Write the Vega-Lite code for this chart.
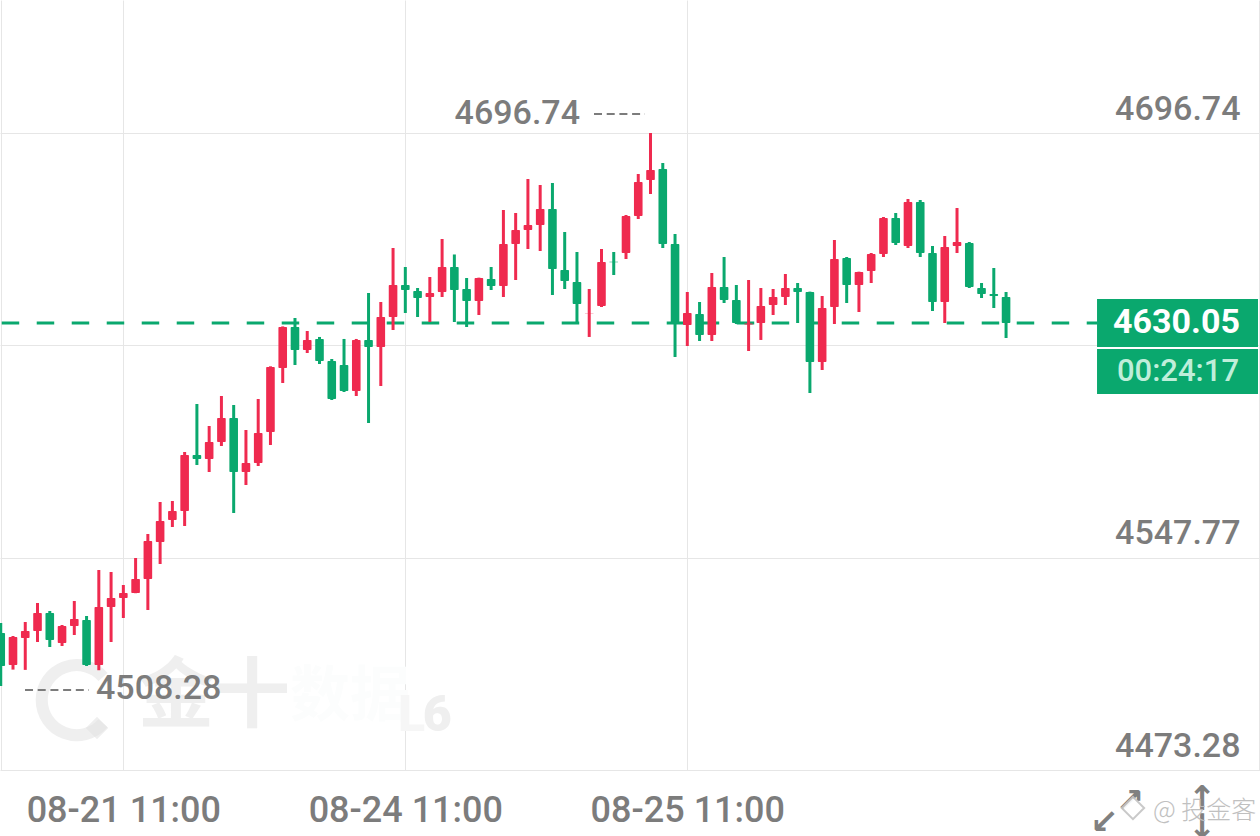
{"$schema":"https://vega.github.io/schema/vega-lite/v6.json","autosize":{"type":"none"},"width":1260,"height":770,"padding":{"left":0,"top":0,"right":0,"bottom":66},"background":"#ffffff","config":{"view":{"stroke":null},"font":"Roboto"},
"datasets":{"candles":[
{"n":0,"open":4521.34,"close":4509.77,"high":4524.85,"low":4502.75,"dir":"down"},
{"n":1,"open":4510.12,"close":4519.94,"high":4520.29,"low":4508.5,"dir":"up"},
{"n":2,"open":4519.59,"close":4522.04,"high":4525.2,"low":4508.4,"dir":"up"},
{"n":3,"open":4522.04,"close":4528.36,"high":4531.87,"low":4518.19,"dir":"up"},
{"n":4,"open":4528.36,"close":4518.89,"high":4529.06,"low":4516.43,"dir":"down"},
{"n":5,"open":4517.84,"close":4523.8,"high":4524.15,"low":4516.78,"dir":"up"},
{"n":6,"open":4523.8,"close":4526.26,"high":4532.57,"low":4520.64,"dir":"up"},
{"n":7,"open":4525.91,"close":4510.12,"high":4527.31,"low":4509.77,"dir":"down"},
{"n":8,"open":4510.12,"close":4530.46,"high":4543.44,"low":4508.28,"dir":"up"},
{"n":9,"open":4530.46,"close":4533.62,"high":4542.74,"low":4518.19,"dir":"up"},
{"n":10,"open":4533.62,"close":4535.38,"high":4538.18,"low":4526.61,"dir":"up"},
{"n":11,"open":4535.38,"close":4540.29,"high":4547.65,"low":4535.3,"dir":"up"},
{"n":12,"open":4540.29,"close":4553.62,"high":4556.07,"low":4529.41,"dir":"up"},
{"n":13,"open":4553.27,"close":4560.63,"high":4567.3,"low":4545.55,"dir":"up"},
{"n":14,"open":4560.98,"close":4564.14,"high":4567.65,"low":4558.53,"dir":"up"},
{"n":15,"open":4564.14,"close":4583.79,"high":4584.84,"low":4558.88,"dir":"up"},
{"n":16,"open":4583.79,"close":4582.38,"high":4601.68,"low":4580.28,"dir":"down"},
{"n":17,"open":4582.38,"close":4588.35,"high":4593.96,"low":4577.82,"dir":"up"},
{"n":18,"open":4588.35,"close":4596.77,"high":4604.48,"low":4586.95,"dir":"up"},
{"n":19,"open":4596.77,"close":4577.82,"high":4601.32,"low":4563.44,"dir":"down"},
{"n":20,"open":4577.82,"close":4580.98,"high":4592.56,"low":4573.26,"dir":"up"},
{"n":21,"open":4580.98,"close":4591.5,"high":4603.43,"low":4579.93,"dir":"up"},
{"n":22,"open":4591.85,"close":4614.66,"high":4614.9,"low":4587.3,"dir":"up"},
{"n":23,"open":4614.31,"close":4628.69,"high":4628.9,"low":4609.05,"dir":"up"},
{"n":24,"open":4628.69,"close":4620.62,"high":4631.85,"low":4615.36,"dir":"down"},
{"n":25,"open":4620.62,"close":4624.14,"high":4627.29,"low":4619.57,"dir":"up"},
{"n":26,"open":4624.49,"close":4616.76,"high":4625.19,"low":4615.71,"dir":"down"},
{"n":27,"open":4616.76,"close":4603.43,"high":4617.46,"low":4603.08,"dir":"down"},
{"n":28,"open":4615.36,"close":4606.24,"high":4624.49,"low":4605.89,"dir":"down"},
{"n":29,"open":4606.24,"close":4624.14,"high":4624.49,"low":4604.48,"dir":"up"},
{"n":30,"open":4624.14,"close":4621.68,"high":4640.62,"low":4595.01,"dir":"down"},
{"n":31,"open":4621.68,"close":4632.2,"high":4637.46,"low":4607.99,"dir":"up"},
{"n":32,"open":4632.2,"close":4643.42,"high":4656.4,"low":4627.64,"dir":"up"},
{"n":33,"open":4643.42,"close":4641.67,"high":4649.74,"low":4633.6,"dir":"down"},
{"n":34,"open":4641.32,"close":4638.86,"high":4642.37,"low":4632.2,"dir":"down"},
{"n":35,"open":4639.21,"close":4640.62,"high":4646.23,"low":4630.44,"dir":"up"},
{"n":36,"open":4640.97,"close":4649.74,"high":4659.56,"low":4639.21,"dir":"up"},
{"n":37,"open":4649.74,"close":4641.67,"high":4654.13,"low":4630.44,"dir":"down"},
{"n":38,"open":4642.02,"close":4637.81,"high":4645.88,"low":4628.69,"dir":"down"},
{"n":39,"open":4637.81,"close":4645.88,"high":4646,"low":4632.9,"dir":"up"},
{"n":40,"open":4645.53,"close":4643.07,"high":4649.74,"low":4641.67,"dir":"down"},
{"n":41,"open":4643.07,"close":4657.8,"high":4669.73,"low":4639.21,"dir":"up"},
{"n":42,"open":4657.8,"close":4662.72,"high":4668.68,"low":4645.18,"dir":"up"},
{"n":43,"open":4662.72,"close":4664.47,"high":4680.61,"low":4656.05,"dir":"up"},
{"n":44,"open":4664.47,"close":4670.08,"high":4678.5,"low":4655.35,"dir":"up"},
{"n":45,"open":4670.08,"close":4649.03,"high":4679.2,"low":4639.91,"dir":"down"},
{"n":46,"open":4648.68,"close":4644.82,"high":4662.01,"low":4642.02,"dir":"down"},
{"n":47,"open":4644.47,"close":4636.76,"high":4655,"low":4630.09,"dir":"down"},
{"n":48,"open":4633.55,"close":4633.6,"high":4642.02,"low":4625.19,"dir":"up"},
{"n":49,"open":4636.05,"close":4651.49,"high":4656.05,"low":4635.7,"dir":"up"},
{"n":50,"open":4651.6,"close":4651.4,"high":4655,"low":4646.93,"dir":"down"},
{"n":51,"open":4654.65,"close":4667.63,"high":4667.98,"low":4652.54,"dir":"up"},
{"n":52,"open":4667.63,"close":4679.55,"high":4682.36,"low":4666.57,"dir":"up"},
{"n":53,"open":4680.26,"close":4683.76,"high":4696.74,"low":4675.34,"dir":"up"},
{"n":54,"open":4684.11,"close":4657.8,"high":4686.22,"low":4656.4,"dir":"down"},
{"n":55,"open":4657.8,"close":4630.09,"high":4661.31,"low":4618.17,"dir":"down"},
{"n":56,"open":4629.39,"close":4633.6,"high":4640.97,"low":4622.02,"dir":"up"},
{"n":57,"open":4633.25,"close":4625.88,"high":4637.46,"low":4623.78,"dir":"down"},
{"n":58,"open":4625.88,"close":4642.72,"high":4647.63,"low":4623.78,"dir":"up"},
{"n":59,"open":4642.72,"close":4638.16,"high":4653.24,"low":4637.11,"dir":"down"},
{"n":60,"open":4638.16,"close":4630.09,"high":4643.42,"low":4629.74,"dir":"down"},
{"n":61,"open":4629.6,"close":4629.9,"high":4645.18,"low":4620.27,"dir":"up"},
{"n":62,"open":4630.09,"close":4636.05,"high":4642.37,"low":4624.14,"dir":"up"},
{"n":63,"open":4636.41,"close":4639.21,"high":4642.02,"low":4632.9,"dir":"up"},
{"n":64,"open":4639.21,"close":4642.37,"high":4647.28,"low":4636.41,"dir":"up"},
{"n":65,"open":4642.37,"close":4640.97,"high":4644.12,"low":4630.09,"dir":"down"},
{"n":66,"open":4640.97,"close":4616.41,"high":4641.1,"low":4605.54,"dir":"down"},
{"n":67,"open":4616.41,"close":4635.35,"high":4639.56,"low":4613.6,"dir":"up"},
{"n":68,"open":4635.7,"close":4652.54,"high":4659.21,"low":4629.74,"dir":"up"},
{"n":69,"open":4652.89,"close":4643.42,"high":4653.24,"low":4637.11,"dir":"down"},
{"n":70,"open":4643.42,"close":4647.98,"high":4648.1,"low":4633.95,"dir":"up"},
{"n":71,"open":4648.33,"close":4654.3,"high":4654.65,"low":4644.12,"dir":"up"},
{"n":72,"open":4654.3,"close":4666.93,"high":4667.28,"low":4653.24,"dir":"up"},
{"n":73,"open":4666.93,"close":4658.16,"high":4668.68,"low":4657.45,"dir":"down"},
{"n":74,"open":4657.1,"close":4672.54,"high":4673.59,"low":4656.4,"dir":"up"},
{"n":75,"open":4672.54,"close":4654.65,"high":4673.24,"low":4653.24,"dir":"down"},
{"n":76,"open":4654.65,"close":4637.46,"high":4657.1,"low":4634.3,"dir":"down"},
{"n":77,"open":4637.46,"close":4656.75,"high":4660.61,"low":4630.09,"dir":"up"},
{"n":78,"open":4657.1,"close":4658.51,"high":4670.43,"low":4654.65,"dir":"up"},
{"n":79,"open":4658.16,"close":4642.72,"high":4658.51,"low":4642.37,"dir":"down"},
{"n":80,"open":4642.37,"close":4640.27,"high":4644.12,"low":4638.86,"dir":"down"},
{"n":81,"open":4640.27,"close":4639.56,"high":4649.38,"low":4635.35,"dir":"down"},
{"n":82,"open":4639.21,"close":4630.09,"high":4640.97,"low":4624.82,"dir":"down"}
]},
"encoding":{
"x":{"field":"n","type":"quantitative","title":null,"scale":{"domain":[-0.0604,102.713],"nice":false,"zero":false,"padding":0},"axis":{"values":[0.02,10,33,56,102.6],"grid":true,"gridColor":"#e6e6e6","gridWidth":1,"domain":false,"ticks":false,"tickSize":0,"labelExpr":"datum.value==10?'08-21 11:00':datum.value==33?'08-24 11:00':datum.value==56?'08-25 11:00':''","labelFont":"Roboto","labelFontWeight":500,"labelFontSize":36,"labelColor":"#7c7c7c","labelBaseline":"middle","labelAlign":"center","labelPadding":40,"labelFlush":false,"labelOverlap":false,"labelBound":false,"labelLimit":400}},
"y":{"field":"price","type":"quantitative","title":null,"scale":{"domain":[4473.28,4743.4],"nice":false,"zero":false},"axis":{"values":[4696.74,4622.26,4547.77,4473.28],"format":".2f","grid":true,"gridColor":"#e6e6e6","gridWidth":1,"domain":false,"ticks":false,"tickSize":0,"labelFont":"Roboto","labelFontWeight":500,"labelFontSize":34,"labelColor":"#7c7c7c","labelAlign":"right","labelBaseline":"alphabetic","labelPadding":-1240,"labelOffset":-14,"labelOverlap":false,"labelBound":false,"labelFlush":false,"labelLimit":400}}
},
"layer":[
{"data":{"values":[{"n":6.2,"price":4497.8}]},"mark":{"type":"point","shape":"M 0.75 -0.66 A 1 1 0 1 0 0.75 0.66","filled":false,"size":4900,"strokeWidth":12,"stroke":"#e2e2e2","opacity":0.55}},
{"data":{"values":[{"n":7.85,"price":4488.02}]},"mark":{"type":"point","shape":"diamond","filled":true,"size":500,"fill":"#e2e2e2","opacity":0.55}},
{"data":{"values":[{"n":17.39,"price":4498.54,"label":"金十"}]},"mark":{"type":"text","font":"Noto Sans CJK SC","fontWeight":700,"fontSize":76,"fill":"#e2e2e2","opacity":0.55,"align":"center","baseline":"middle"},"encoding":{"text":{"field":"label"}}},
{"data":{"values":[{"n":28.49,"price":4498.54,"label":"数据"}]},"mark":{"type":"text","font":"Noto Sans CJK SC","fontWeight":700,"fontSize":60,"fill":"#fcfdfd","align":"center","baseline":"middle"},"encoding":{"text":{"field":"label"}}},
{"data":{"values":[{"n":33.5,"price":4492.2,"label":"L"}]},"mark":{"type":"text","font":"Roboto","fontWeight":900,"fontSize":50,"fill":"#f6f6f6","align":"center","baseline":"middle"},"encoding":{"text":{"field":"label"}}},
{"data":{"values":[{"n":35.6,"price":4492.2,"label":"6"}]},"mark":{"type":"text","font":"Roboto","fontWeight":900,"fontSize":50,"fill":"#e2e2e2","opacity":0.55,"align":"center","baseline":"middle"},"encoding":{"text":{"field":"label"}}},
{"data":{"values":[{"n":0.08,"n2":89.42,"price":4630.05}]},"mark":{"type":"rule","color":"#0aa86e","strokeWidth":3,"strokeDash":[17.5,17.5]},"encoding":{"x2":{"field":"n2"}}},
{"data":{"name":"candles"},"mark":{"type":"rule","strokeWidth":3},"encoding":{"y":{"field":"high","type":"quantitative","title":null,"scale":{"domain":[4473.28,4743.4],"nice":false,"zero":false},"axis":{"values":[4696.74,4622.26,4547.77,4473.28],"format":".2f","grid":true,"gridColor":"#e6e6e6","gridWidth":1,"domain":false,"ticks":false,"tickSize":0,"labelFont":"Roboto","labelFontWeight":500,"labelFontSize":34,"labelColor":"#7c7c7c","labelAlign":"right","labelBaseline":"alphabetic","labelPadding":-1240,"labelOffset":-14,"labelOverlap":false,"labelBound":false,"labelFlush":false,"labelLimit":400}},"y2":{"field":"low"},"color":{"field":"dir","type":"nominal","legend":null,"scale":{"domain":["up","down"],"range":["#ef2a4f","#0aa86e"]}}}},
{"data":{"name":"candles"},"mark":{"type":"bar","width":8.6,"cornerRadius":1},"encoding":{"y":{"field":"open","type":"quantitative","title":null,"scale":{"domain":[4473.28,4743.4],"nice":false,"zero":false},"axis":{"values":[4696.74,4622.26,4547.77,4473.28],"format":".2f","grid":true,"gridColor":"#e6e6e6","gridWidth":1,"domain":false,"ticks":false,"tickSize":0,"labelFont":"Roboto","labelFontWeight":500,"labelFontSize":34,"labelColor":"#7c7c7c","labelAlign":"right","labelBaseline":"alphabetic","labelPadding":-1240,"labelOffset":-14,"labelOverlap":false,"labelBound":false,"labelFlush":false,"labelLimit":400}},"y2":{"field":"close"},"color":{"field":"dir","type":"nominal","legend":null,"scale":{"domain":["up","down"],"range":["#ef2a4f","#0aa86e"]}}}},
{"data":{"values":[{"n":48.39,"n2":52.55,"price":4703.41},{"n":1.98,"n2":7.2,"price":4501.35}]},"mark":{"type":"rule","color":"#7c7c7c","strokeWidth":2,"strokeDash":[8,4.7]},"encoding":{"x2":{"field":"n2"}}},
{"data":{"values":[{"n":47.25,"price":4703.41,"label":"4696.74"}]},"mark":{"type":"text","fontWeight":500,"fontSize":34,"fill":"#7c7c7c","align":"right","baseline":"middle"},"encoding":{"text":{"field":"label"}}},
{"data":{"values":[{"n":7.77,"price":4501.7,"label":"4508.28"}]},"mark":{"type":"text","fontWeight":500,"fontSize":34,"fill":"#7c7c7c","align":"left","baseline":"middle"},"encoding":{"text":{"field":"label"}}},
{"data":{"values":[{"n":89.42,"n2":102.55,"price":4638.51,"price2":4621.67},{"n":89.42,"n2":102.55,"price":4620.97,"price2":4605.18}]},"mark":{"type":"rect","color":"#0aa86e"},"encoding":{"x2":{"field":"n2"},"y2":{"field":"price2"}}},
{"data":{"values":[{"n":101.08,"price":4630.09,"label":"4630.05"}]},"mark":{"type":"text","fontWeight":700,"fontSize":34,"fill":"#ffffff","align":"right","baseline":"middle"},"encoding":{"text":{"field":"label"}}},
{"data":{"values":[{"n":101,"price":4612.9,"label":"00:24:17"}]},"mark":{"type":"text","fontWeight":500,"fontSize":31,"fill":"#bfeeda","align":"right","baseline":"middle"},"encoding":{"text":{"field":"label"}}},
{"data":{"values":[{"n":92.1,"price":4462.06,"label":"↗"},{"n":90,"price":4454.69,"label":"↙"},{"n":98,"price":4462.76,"label":"↑"},{"n":98,"price":4452.94,"label":"↓"}]},"mark":{"type":"text","font":"DejaVu Sans","fontWeight":700,"fontSize":34,"fill":"#808080","align":"center","baseline":"middle"},"encoding":{"text":{"field":"label"}}},
{"data":{"values":[{"n":92.35,"price":4459.96}]},"mark":{"type":"point","shape":"diamond","filled":true,"size":500,"fill":"#ffffff","stroke":"#c4c4c4","strokeWidth":2,"opacity":0.9}},
{"data":{"values":[{"n":93.99,"price":4458.9,"label":"@ 投金客"}]},"mark":{"type":"text","font":"Noto Sans CJK SC","fontWeight":300,"fontSize":25,"fill":"#bdbdbd","opacity":0.95,"align":"left","baseline":"middle"},"encoding":{"text":{"field":"label"}}}
]}
